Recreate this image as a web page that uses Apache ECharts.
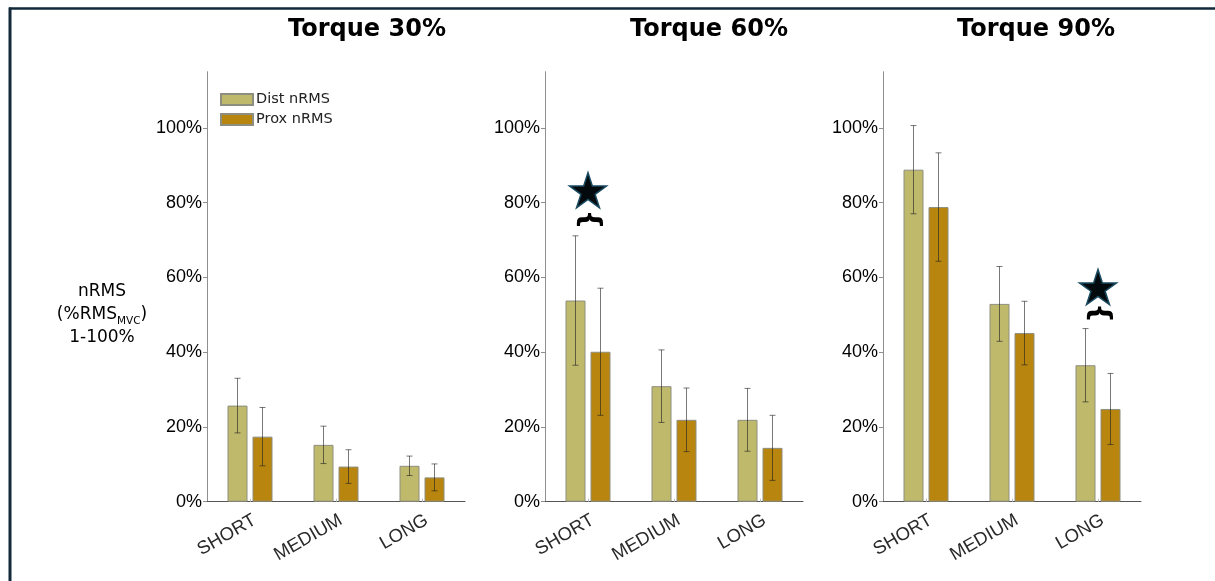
<!DOCTYPE html>
<html>
<head>
<meta charset="utf-8">
<script src="https://cdn.jsdelivr.net/npm/echarts@6/dist/echarts.min.js"></script>
<style>
html,body{margin:0;padding:0;background:#fff;}
#chart{width:1215px;height:581px;}
</style>
</head>
<body>
<div id="chart"></div>
<script>
// ---- data ----
const categories = ['SHORT', 'MEDIUM', 'LONG'];
const panelTitles = ['Torque 30%', 'Torque 60%', 'Torque 90%'];
const seriesNames = ['Dist nRMS', 'Prox nRMS'];
const yTicks = [0, 20, 40, 60, 80, 100];

const dist30 = [25.7, 15.2, 9.6];
const distErr30 = [7.3, 5.0, 2.6];
const prox30 = [17.4, 9.4, 6.5];
const proxErr30 = [7.8, 4.5, 3.6];

const dist60 = [53.8, 30.9, 21.9];
const distErr60 = [17.3, 9.7, 8.4];
const prox60 = [40.1, 21.9, 14.4];
const proxErr60 = [17.0, 8.5, 8.7];

const dist90 = [88.8, 52.9, 36.5];
const distErr90 = [11.8, 10.0, 9.8];
const prox90 = [78.8, 45.1, 24.8];
const proxErr90 = [14.5, 8.5, 9.5];

// significance markers: [category index, value]
const star60 = [[0, 83.3]];
const brace60 = [[0, 75.5]];
const star90 = [[2, 57.4]];
const brace90 = [[2, 50.5]];

// ---- styling / layout ----
const distColor = '#bfb96c';
const proxColor = '#b8860f';
const barBorder = '#8e8e80';
const gridLefts = [207, 545, 883];
const gridWidth = 258;
const gridTop = 71.7;
const gridHeight = 430;
const titleX = [367, 709, 1036];
const barW = 20;
const barOffset = 12.5;

const panels = [
  {dist: dist30, distErr: distErr30, prox: prox30, proxErr: proxErr30, star: [], brace: []},
  {dist: dist60, distErr: distErr60, prox: prox60, proxErr: proxErr60, star: star60, brace: brace60},
  {dist: dist90, distErr: distErr90, prox: prox90, proxErr: proxErr90, star: star90, brace: brace90}
];

const starPath = 'path://M50 0 L61.23 34.55 L97.55 34.55 L68.17 55.9 L79.39 90.45 L50 69.1 L20.61 90.45 L31.83 55.9 L2.45 34.55 L38.77 34.55 Z';

function errRender(offset) {
  return function (params, api) {
    const c = api.value(0), v = api.value(1), e = api.value(2);
    const hi = api.coord([c, v + e]);
    const lo = api.coord([c, v - e]);
    const x = hi[0] + offset;
    const cap = 3;
    const st = {stroke: 'rgba(30,30,30,0.6)', lineWidth: 1};
    return {
      type: 'group',
      children: [
        {type: 'line', shape: {x1: x, y1: hi[1], x2: x, y2: lo[1]}, style: st},
        {type: 'line', shape: {x1: x - cap, y1: hi[1], x2: x + cap, y2: hi[1]}, style: st},
        {type: 'line', shape: {x1: x - cap, y1: lo[1], x2: x + cap, y2: lo[1]}, style: st}
      ]
    };
  };
}

const grids = [], xAxes = [], yAxes = [], series = [];
panels.forEach((p, i) => {
  grids.push({left: gridLefts[i], top: gridTop, width: gridWidth, height: gridHeight, containLabel: false});
  xAxes.push({
    type: 'category', gridIndex: i, data: categories,
    axisLine: {lineStyle: {color: '#555', width: 1}},
    axisTick: {show: true, inside: true, alignWithLabel: true, length: 3, lineStyle: {color: '#bbb'}},
    axisLabel: {rotate: 30, interval: 0, margin: 9, verticalAlign: 'top', fontFamily: 'Liberation Sans', fontSize: 18.5, color: '#2a2a2a'}
  });
  yAxes.push({
    type: 'value', gridIndex: i, min: 0, max: 115,
    splitLine: {show: false},
    axisLine: {show: true, lineStyle: {color: '#8f8f8f', width: 1}},
    axisTick: {show: true, length: 4, lineStyle: {color: '#8f8f8f'}, customValues: yTicks},
    axisLabel: {customValues: yTicks, formatter: '{value}%', fontFamily: 'Liberation Sans', fontSize: 18, color: '#000', margin: 5}
  });
  series.push({
    type: 'bar', name: seriesNames[0], xAxisIndex: i, yAxisIndex: i, data: p.dist,
    barWidth: barW, barGap: '25%',
    itemStyle: {color: distColor, borderColor: barBorder, borderWidth: 1}
  });
  series.push({
    type: 'bar', name: seriesNames[1], xAxisIndex: i, yAxisIndex: i, data: p.prox,
    barWidth: barW, barGap: '25%',
    itemStyle: {color: proxColor, borderColor: barBorder, borderWidth: 1}
  });
  series.push({
    type: 'custom', xAxisIndex: i, yAxisIndex: i, z: 5,
    data: p.dist.map((v, j) => [j, v, p.distErr[j]]),
    encode: {x: 0, y: 1},
    renderItem: errRender(-barOffset), silent: true
  });
  series.push({
    type: 'custom', xAxisIndex: i, yAxisIndex: i, z: 5,
    data: p.prox.map((v, j) => [j, v, p.proxErr[j]]),
    encode: {x: 0, y: 1},
    renderItem: errRender(barOffset), silent: true
  });
  if (p.star.length) {
    series.push({
      type: 'scatter', xAxisIndex: i, yAxisIndex: i, z: 6, silent: true,
      data: p.star, symbol: starPath, symbolSize: [37, 35],
      itemStyle: {color: '#030a0e', borderColor: '#1a4a60', borderWidth: 1.5, opacity: 1}
    });
    series.push({
      type: 'scatter', xAxisIndex: i, yAxisIndex: i, z: 6, silent: true,
      data: p.brace, symbolSize: 1, itemStyle: {color: 'rgba(0,0,0,0)', opacity: 1},
      label: {show: true, position: 'inside', formatter: '{', rotate: -90, opacity: 1,
        fontFamily: 'DejaVu Sans', fontWeight: 'bold', fontSize: 28, color: '#000'}
    });
  }
});

const graphic = [
  {type: 'line', shape: {x1: 9, y1: 8.5, x2: 1215, y2: 8.5}, style: {stroke: '#12293a', lineWidth: 2.5}},
  {type: 'line', shape: {x1: 10, y1: 7.5, x2: 10, y2: 581}, style: {stroke: '#12293a', lineWidth: 3}},
  {
    type: 'text', x: 102, y: 315,
    style: {
      text: '{a|nRMS}\n{a|(%RMS}{s|MVC}{a|)}\n{a|1-100%}',
      align: 'center', verticalAlign: 'middle',
      rich: {
        a: {fontFamily: 'DejaVu Sans', fontSize: 17, fill: '#000', lineHeight: 23},
        s: {fontFamily: 'DejaVu Sans', fontSize: 10.5, fill: '#000', lineHeight: 8, verticalAlign: 'bottom'}
      }
    }
  }
];
panelTitles.forEach((t, i) => {
  graphic.push({
    type: 'text', x: titleX[i], y: 30,
    style: {text: t, fontFamily: 'DejaVu Sans', fontWeight: 'bold', fontSize: 24, fill: '#000', align: 'center', verticalAlign: 'middle'}
  });
});

const chart = echarts.init(document.getElementById('chart'), null, {renderer: 'canvas'});
chart.setOption({
  backgroundColor: '#fff',
  animation: false,
  grid: grids,
  xAxis: xAxes,
  yAxis: yAxes,
  legend: {
    data: seriesNames, orient: 'vertical', left: 220, top: 92, padding: 0,
    itemWidth: 32, itemHeight: 11, itemGap: 5, icon: 'rect',
    textStyle: {fontFamily: 'DejaVu Sans', fontSize: 14.5, color: '#222', padding: [0, 0, 0, -2]}
  },
  series: series,
  graphic: graphic
});
</script>
</body>
</html>
